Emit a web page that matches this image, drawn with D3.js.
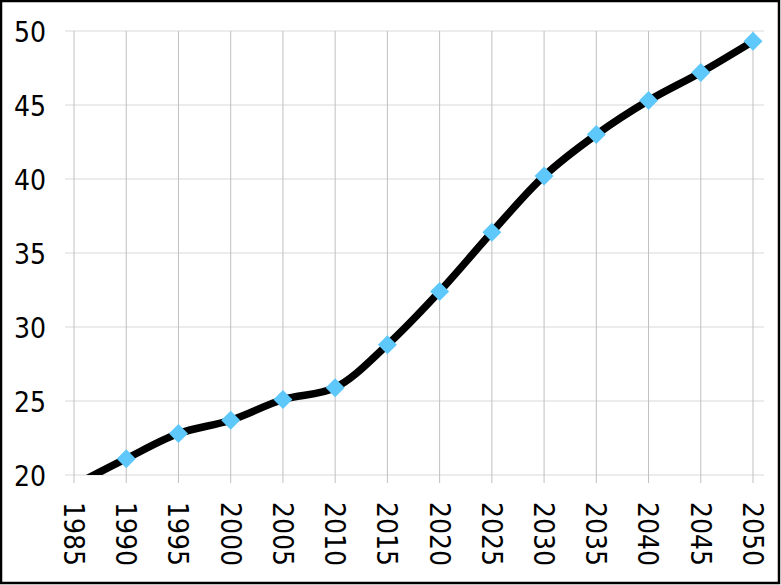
<!DOCTYPE html>
<html><head><meta charset="utf-8">
<script src="https://cdn.jsdelivr.net/npm/d3@7"></script>
<style>html,body{margin:0;padding:0;background:#fff}svg{display:block}
text{font-family:"DejaVu Sans Condensed","DejaVu Sans",sans-serif;font-stretch:condensed;}</style>
</head><body>
<script>
const years = ["1985","1990","1995","2000","2005","2010","2015","2020","2025","2030","2035","2040","2045","2050"];
const values = [19.3,21.1,22.8,23.7,25.1,25.9,28.8,32.4,36.4,40.2,43.0,45.3,47.2,49.3];
const yTicks = [20,25,30,35,40,45,50];

(function(){
const W = 781, H = 585;
const svg = d3.select("body").append("svg").attr("width", W).attr("height", H);
svg.append("rect").attr("x",1).attr("y",1).attr("width",W-3).attr("height",H-3)
  .attr("fill","#fff").attr("stroke","#000").attr("stroke-width",2.5);

const pL = 65, pR = 764, pT = 31, pB = 475;
const x = d3.scalePoint().domain(years).range([74, 753]);
const y = d3.scaleLinear().domain([20,50]).range([pB, pT]);

svg.append("g").selectAll("line").data(yTicks).join("line")
  .attr("x1", pL).attr("x2", pR).attr("y1", d=>y(d)).attr("y2", d=>y(d))
  .attr("stroke","#d9d9d9").attr("stroke-width",1);
svg.append("g").selectAll("line").data(years).join("line")
  .attr("x1", d=>x(d)).attr("x2", d=>x(d)).attr("y1", pT).attr("y2", pB+8)
  .attr("stroke","#c0c0c0").attr("stroke-width",1);

const yAxis = d3.axisLeft(y).tickValues(yTicks).tickSize(0).tickPadding(0);
const gy = svg.append("g").attr("transform","translate(46,0)").call(yAxis);
gy.select(".domain").remove();
gy.selectAll("text").attr("font-size",28).attr("fill","#000").attr("dy","0.36em");
gy.attr("font-family",null).attr("font-size",null);

const gx = svg.append("g");
gx.selectAll("text").data(years).join("text")
  .attr("transform", d=>`translate(${x(d)},${pB+27}) rotate(90)`)
  .attr("dy","0.36em").attr("text-anchor","start")
  .attr("font-size",28).attr("fill","#000")
  .text(d=>d);

svg.append("clipPath").attr("id","clip").append("rect")
  .attr("x", pL).attr("y", 0).attr("width", pR-pL+20).attr("height", pB);

const line = d3.line().x((d,i)=>x(years[i])).y(d=>y(d)).curve(d3.curveCatmullRom.alpha(0.5));
svg.append("path").datum(values).attr("clip-path","url(#clip)")
  .attr("d", line).attr("fill","none").attr("stroke","#000").attr("stroke-width",7.5)
  .attr("stroke-linejoin","round");

svg.append("g").attr("clip-path","url(#clip)").selectAll("path").data(values).join("path")
  .attr("transform",(d,i)=>`translate(${x(years[i])},${y(d)}) rotate(45)`)
  .attr("d", d3.symbol().type(d3.symbolSquare).size(180))
  .attr("fill","#5ec8fb");
})();
</script>
</body></html>
